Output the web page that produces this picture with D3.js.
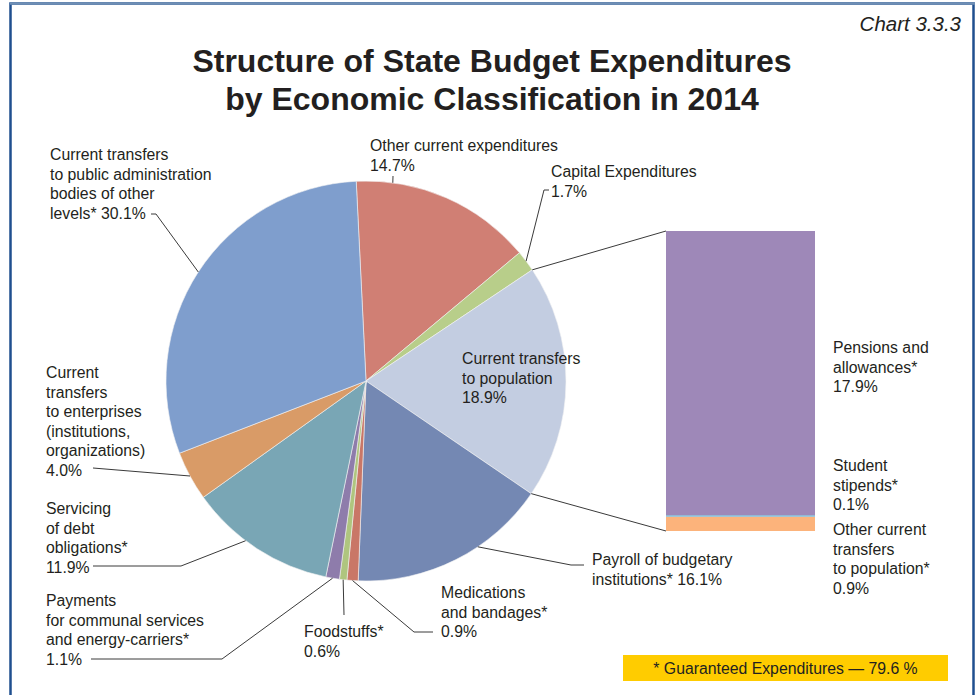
<!DOCTYPE html>
<html>
<head>
<meta charset="utf-8">
<script src="https://cdn.jsdelivr.net/npm/d3@7"></script>
<style>
  html, body { margin: 0; padding: 0; background: #ffffff; }
  svg { display: block; font-family: "Liberation Sans", Arial, sans-serif; }
</style>
</head>
<body>
<svg id="chart" width="979" height="695"></svg>
<script>
// ---- Data ---------------------------------------------------------------
const categories = [
  "Other current expenditures",
  "Capital Expenditures",
  "Current transfers to population",
  "Payroll of budgetary institutions*",
  "Medications and bandages*",
  "Foodstuffs*",
  "Payments for communal services and energy-carriers*",
  "Servicing of debt obligations*",
  "Current transfers to enterprises (institutions, organizations)",
  "Current transfers to public administration bodies of other levels*"
];
const values = [14.7, 1.7, 18.9, 16.1, 0.9, 0.6, 1.1, 11.9, 4.0, 30.1];

// label text per slice; {v} is replaced by the slice value
const labelLines = [
  ["Other current expenditures", "{v}%"],
  ["Capital Expenditures", "{v}%"],
  ["Current transfers", "to population", "{v}%"],
  ["Payroll of budgetary", "institutions* {v}%"],
  ["Medications", "and bandages*", "{v}%"],
  ["Foodstuffs*", "{v}%"],
  ["Payments", "for communal services", "and energy-carriers*", "{v}%"],
  ["Servicing", "of debt", "obligations*", "{v}%"],
  ["Current", "transfers", "to enterprises", "(institutions,", "organizations)", "{v}%"],
  ["Current transfers", "to public administration", "bodies of other", "levels* {v}%"]
];

// breakdown of "Current transfers to population", bottom to top
const popCategories = ["Other current transfers to population*", "Student stipends*", "Pensions and allowances*"];
const popValues = [0.9, 0.1, 17.9];
const popLabelLines = [
  ["Other current", "transfers", "to population*", "{v}%"],
  ["Student", "stipends*", "{v}%"],
  ["Pensions and", "allowances*", "{v}%"]
];

const titleLines = ["Structure of State Budget Expenditures", "by Economic Classification in 2014"];
const chartNumber = "Chart 3.3.3";
const guaranteedShare = 79.6;

// ---- Styles & layout ----------------------------------------------------
const sliceColors = ["#d07f74", "#b8ce8a", "#c3cde1", "#7488b3", "#c97767",
                     "#afc57f", "#8e7cab", "#79a6b5", "#d99b67", "#7f9ecd"];
const popColors = ["#fcb37b", "#7fb7d6", "#9e88b8"];
const textColor = "#231f20";
const fontSize = 15.8;
const lineH = 19.5;

const cx = 366, cy = 381, R = 200;
const startDeg = -2.8;

// label anchor (x, first baseline) and leader line elbows; angle override in degrees
const labelLayout = [
  { x: 370, y: 151, leader: [[393, 176]], angle: 7.7 },
  { x: 551, y: 177, leader: [[549, 190], [544, 190]] },
  { x: 462, y: 364, leader: null },
  { x: 592, y: 565, leader: [[584, 565], [571, 565]], angle: 146 },
  { x: 441, y: 598, leader: [[433, 632], [414, 632]] },
  { x: 304, y: 637, leader: [[344, 615]] },
  { x: 46,  y: 606, leader: [[91, 659], [222, 659]] },
  { x: 46,  y: 514, leader: [[93, 566], [181, 566]], angle: 217 },
  { x: 46,  y: 378, leader: [[93, 468]] },
  { x: 50,  y: 160, leader: [[151, 214], [156, 214]] }
];
const popLabelLayout = [
  { x: 833, y: 535 },
  { x: 833, y: 471 },
  { x: 833, y: 353 }
];

const barX0 = 666, barX1 = 815, barTop = 231, barBottom = 531;

// ---- Drawing ------------------------------------------------------------
const svg = d3.select("#chart");
const fmt = v => d3.format(".1f")(v);
const fill = (lines, v) => lines.map(s => s.replace("{v}", fmt(v)));

// frame
svg.append("rect")
  .attr("x", 10.5).attr("y", 3.5).attr("width", 963).attr("height", 720)
  .attr("fill", "none").attr("stroke", "#1f4f8f").attr("stroke-width", 2.5);
svg.append("line")
  .attr("x1", 10).attr("x2", 975).attr("y1", 3.5).attr("y2", 3.5)
  .attr("stroke", "#6f8fb5").attr("stroke-width", 2.5);

// chart number
svg.append("text")
  .attr("x", 961).attr("y", 31)
  .attr("text-anchor", "end")
  .attr("font-style", "italic")
  .attr("font-size", 20.5)
  .attr("fill", textColor)
  .text(chartNumber);

// title
svg.append("g").selectAll("text")
  .data(titleLines).join("text")
  .attr("x", 492).attr("y", (d, i) => 72 + i * 38)
  .attr("text-anchor", "middle")
  .attr("font-weight", "bold")
  .attr("font-size", 32)
  .attr("fill", textColor)
  .text(d => d);

// pie
const pie = d3.pie().sort(null).value(d => d)
  .startAngle(startDeg * Math.PI / 180)
  .endAngle(startDeg * Math.PI / 180 + 2 * Math.PI);
const arcs = pie(values);
const arc = d3.arc().innerRadius(0).outerRadius(R);

const pieG = svg.append("g").attr("transform", `translate(${cx},${cy})`);
pieG.selectAll("path")
  .data(arcs).join("path")
  .attr("d", arc)
  .attr("fill", (d, i) => sliceColors[i])
  .attr("stroke", "#f4f4f4")
  .attr("stroke-width", 0.6);

const onPie = (ang) => [cx + R * Math.sin(ang), cy - R * Math.cos(ang)];

// bar for the breakdown of transfers to population
const popTotal = d3.sum(popValues);
const yBar = d3.scaleLinear().domain([0, popTotal]).range([barBottom, barTop]);
const stacked = popValues.reduce((acc, v, i) => {
  const y0 = i === 0 ? 0 : acc[i - 1].y1;
  acc.push({ y0, y1: y0 + v, i });
  return acc;
}, []);
svg.append("g").selectAll("rect")
  .data(stacked).join("rect")
  .attr("x", barX0).attr("width", barX1 - barX0)
  .attr("y", d => yBar(d.y1))
  .attr("height", d => yBar(d.y0) - yBar(d.y1))
  .attr("fill", d => popColors[d.i]);

// connectors from the population slice to the bar
const popArc = arcs[2];
const connectors = [
  [onPie(popArc.startAngle), [barX0, yBar(popTotal)]],
  [onPie(popArc.endAngle), [barX0, yBar(0)]]
];
svg.append("g").selectAll("line")
  .data(connectors).join("line")
  .attr("x1", d => d[0][0]).attr("y1", d => d[0][1])
  .attr("x2", d => d[1][0]).attr("y2", d => d[1][1])
  .attr("stroke", "#3a3a3a").attr("stroke-width", 1);

// leader lines
const line = d3.line();
const leaderG = svg.append("g");
arcs.forEach((a, i) => {
  const L = labelLayout[i];
  if (!L.leader) return;
  const ang = L.angle !== undefined ? L.angle * Math.PI / 180 : (a.startAngle + a.endAngle) / 2;
  const pts = L.leader.concat([onPie(ang)]);
  leaderG.append("path")
    .attr("d", line(pts))
    .attr("fill", "none")
    .attr("stroke", "#3a3a3a")
    .attr("stroke-width", 1);
});

// multi-line labels
function drawLabel(g, x, y, lines) {
  const t = g.append("text")
    .attr("x", x).attr("y", y)
    .attr("font-size", fontSize)
    .attr("fill", textColor);
  lines.forEach((s, k) => {
    t.append("tspan").attr("x", x).attr("y", y + k * lineH).text(s);
  });
}
const labelG = svg.append("g");
values.forEach((v, i) => {
  drawLabel(labelG, labelLayout[i].x, labelLayout[i].y, fill(labelLines[i], v));
});
popValues.forEach((v, i) => {
  drawLabel(labelG, popLabelLayout[i].x, popLabelLayout[i].y, fill(popLabelLines[i], v));
});

// guaranteed expenditures note
const note = svg.append("g");
note.append("rect")
  .attr("x", 623).attr("y", 655).attr("width", 325).attr("height", 26)
  .attr("fill", "#ffcc00");
note.append("text")
  .attr("x", 785.5).attr("y", 674)
  .attr("text-anchor", "middle")
  .attr("font-size", fontSize)
  .attr("fill", textColor)
  .text(`* Guaranteed Expenditures \u2014 ${fmt(guaranteedShare)} %`);
</script>
</body>
</html>
